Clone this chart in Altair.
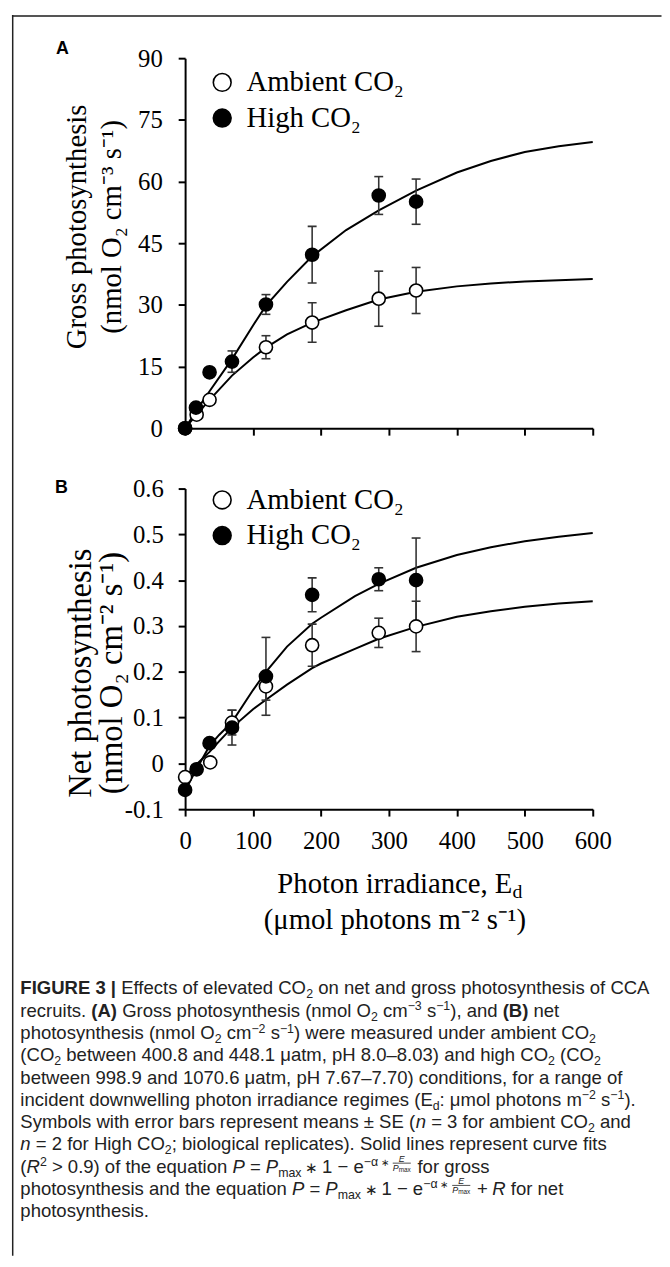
import re
import altair as alt
import pandas as pd

# ---------------- data ----------------
SERIES = ["Ambient CO₂", "High CO₂"]

X_TICKS = [0, 100, 200, 300, 400, 500, 600]
A_Y_TICKS = [0, 15, 30, 45, 60, 75, 90]
B_Y_TICKS = [-0.1, 0, 0.1, 0.2, 0.3, 0.4, 0.5, 0.6]

# Panel A - gross photosynthesis
A_AMB_X = [0, 17, 36, 119, 187, 285, 340]
A_AMB_Y = [0.0, 3.3, 6.9, 19.7, 25.7, 31.5, 33.5]
A_AMB_SE = [0.0, 0.0, 1.0, 2.8, 4.8, 6.7, 5.6]
A_HIGH_X = [0, 16, 36, 69, 119, 187, 285, 340]
A_HIGH_Y = [0.0, 5.0, 13.6, 16.2, 30.1, 42.2, 56.6, 55.1]
A_HIGH_SE = [0.0, 0.0, 1.1, 2.6, 2.4, 6.9, 4.6, 5.5]

A_FIT_X = [0, 17, 36, 69, 100, 119, 150, 187, 237, 285, 340, 400, 450, 500, 550, 600]
A_FIT_AMB = [0, 3.3, 6.9, 12.8, 17.2, 19.6, 22.8, 25.7, 28.7, 31.3, 33.2, 34.5, 35.2, 35.7, 36.0, 36.3]
A_FIT_HIGH = [0, 4.4, 9.0, 16.8, 25.0, 29.8, 35.6, 41.8, 48.2, 53.0, 57.8, 62.2, 65.0, 67.2, 68.6, 69.6]

# Panel B - net photosynthesis
B_AMB_X = [0, 37, 69, 119, 187, 285, 340]
B_AMB_Y = [-0.030, 0.002, 0.089, 0.168, 0.258, 0.285, 0.299]
B_AMB_SE = [0.0, 0.006, 0.027, 0.030, 0.046, 0.032, 0.055]
B_HIGH_X = [0, 17, 36, 69, 119, 187, 285, 340]
B_HIGH_Y = [-0.058, -0.013, 0.044, 0.078, 0.190, 0.368, 0.402, 0.400]
B_HIGH_SE = [0.0, 0.0, 0.0, 0.038, 0.085, 0.037, 0.025, 0.092]

B_FIT_X = [0, 17, 36, 50, 69, 100, 119, 150, 187, 200, 250, 285, 340, 400, 450, 500, 550, 600]
B_FIT_AMB = [-0.030, -0.002, 0.025, 0.048, 0.078, 0.118, 0.139, 0.172, 0.208, 0.218, 0.250,
             0.272, 0.298, 0.320, 0.332, 0.342, 0.349, 0.354]
B_FIT_HIGH = [-0.060, -0.012, 0.038, 0.062, 0.090, 0.160, 0.200, 0.255, 0.305, 0.318, 0.365,
              0.392, 0.427, 0.455, 0.472, 0.485, 0.495, 0.503]

A_YTITLE = ["Gross photosynthesis", "(nmol O₂ cm⁻³ s⁻¹)"]
B_YTITLE = ["Net photosynthesis", "(nmol O₂ cm⁻² s⁻¹)"]
X_TITLE = ["Photon irradiance, E", "(μmol photons m⁻² s⁻¹)"]
X_TITLE_SUB = "d"
PANEL_LABELS = ["A", "B"]

CAPTION = [
    "**FIGURE 3 |** Effects of elevated CO_{2} on net and gross photosynthesis of CCA",
    "recruits. **(A)** Gross photosynthesis (nmol O_{2} cm^{−3} s^{−1}), and **(B)** net",
    "photosynthesis (nmol O_{2} cm^{−2} s^{−1}) were measured under ambient CO_{2}",
    "(CO_{2} between 400.8 and 448.1 μatm, pH 8.0–8.03) and high CO_{2} (CO_{2}",
    "between 998.9 and 1070.6 μatm, pH 7.67–7.70) conditions, for a range of",
    "incident downwelling photon irradiance regimes (E_{d}: μmol photons m^{−2} s^{−1}).",
    "Symbols with error bars represent means ± SE (*n* = 3 for ambient CO_{2} and",
    "*n* = 2 for High CO_{2}; biological replicates). Solid lines represent curve fits",
    "(*R*^{2} > 0.9) of the equation *P* = *P*_{max} ∗ 1 − e^{−α ∗ }@FRAC@ for gross",
    "photosynthesis and the equation *P* = *P*_{max} ∗ 1 − e^{−α ∗ }@FRAC@ + *R* for net",
    "photosynthesis.",
]

# ---------------- tables ----------------
def pts_table(ax, ay, ase, hx, hy, hse):
    rows = []
    for x, y, s in zip(ax, ay, ase):
        rows.append(dict(x=x, y=y, lo=y - s, hi=y + s, se=s, series=SERIES[0], ord=0))
    for x, y, s in zip(hx, hy, hse):
        rows.append(dict(x=x, y=y, lo=y - s, hi=y + s, se=s, series=SERIES[1], ord=1))
    return pd.DataFrame(rows)


def fit_table(fx, famb, fhigh):
    rows = [dict(x=x, y=y, series=SERIES[0]) for x, y in zip(fx, famb)]
    rows += [dict(x=x, y=y, series=SERIES[1]) for x, y in zip(fx, fhigh)]
    return pd.DataFrame(rows)


A_PTS = pts_table(A_AMB_X, A_AMB_Y, A_AMB_SE, A_HIGH_X, A_HIGH_Y, A_HIGH_SE)
B_PTS = pts_table(B_AMB_X, B_AMB_Y, B_AMB_SE, B_HIGH_X, B_HIGH_Y, B_HIGH_SE)
A_FIT = fit_table(A_FIT_X, A_FIT_AMB, A_FIT_HIGH)
B_FIT = fit_table(B_FIT_X, B_FIT_AMB, B_FIT_HIGH)

# ---------------- layout constants ----------------
W = 412
HA = 374
HB = 324
GAP = 61
SERIF = "Liberation Serif"
SANS = "Liberation Sans"

XS = alt.Scale(domain=[0, 600], nice=False, zero=False)


def panel(pts, fit, ydom, height, xaxis, yaxis, legend):
    ys = alt.Scale(domain=ydom, nice=False, zero=False)
    X = lambda f: alt.X(f, type="quantitative", scale=XS, axis=xaxis)
    Y = lambda f: alt.Y(f, type="quantitative", scale=ys, axis=yaxis)
    lines = alt.Chart(fit).mark_line(color="black", strokeWidth=2).encode(
        x=X("x"), y=Y("y"), detail="series:N")
    err = pts[pts["se"] > 0]
    bars = alt.Chart(err).mark_rule(color="#333333", strokeWidth=1.6).encode(
        x=X("x"), y=Y("lo"), y2="hi:Q")
    cap_lo = alt.Chart(err).mark_tick(orient="horizontal", size=9, thickness=1.6,
                                      color="#333333", opacity=1).encode(x=X("x"), y=Y("lo"))
    cap_hi = alt.Chart(err).mark_tick(orient="horizontal", size=9, thickness=1.6,
                                      color="#333333", opacity=1).encode(x=X("x"), y=Y("hi"))
    points = alt.Chart(pts).mark_point(filled=True, size=175, stroke="black",
                                       strokeWidth=1.6, opacity=1).encode(
        x=X("x"), y=Y("y"),
        fill=alt.Fill("series:N", scale=alt.Scale(domain=SERIES, range=["white", "black"]),
                      legend=legend),
        order=alt.Order("ord:Q"))
    return alt.layer(lines, bars, cap_lo, cap_hi, points).properties(width=W, height=height)


def legend(ly):
    return alt.Legend(orient="none", legendX=23, legendY=ly, title=None, symbolType="circle",
                      symbolSize=324, symbolStrokeColor="black", symbolStrokeWidth=1.6,
                      labelFont=SERIF, labelFontSize=29, labelColor="black", labelOffset=10,
                      rowPadding=6, padding=0, symbolOpacity=1)


XT_Y = 84          # baseline of the first x-title line, below the axis line
XT_LH = 37

xaxis_A = alt.Axis(values=X_TICKS, labels=False, title=None, labelFlush=False)
yaxis_A = alt.Axis(values=A_Y_TICKS, title=A_YTITLE, titleX=-109.5, titleY=170,
                   titleAngle=270, titleAlign="center", titleBaseline="middle",
                   titleFontSize=29, titleLineHeight=35, labelPadding=16, labelFlush=False)
xaxis_B = alt.Axis(values=X_TICKS, title=X_TITLE, labelPadding=13, labelFlush=False,
                   titleX=211.5, titleY=XT_Y, titleAlign="center", titleBaseline="alphabetic",
                   titleFontSize=29, titleLineHeight=XT_LH)
yaxis_B = alt.Axis(values=B_Y_TICKS, title=B_YTITLE, titleX=-106, titleY=186,
                   titleAngle=270, titleAlign="center", titleBaseline="middle",
                   titleFontSize=33, titleLineHeight=32, labelPadding=15, labelFlush=False,
                   labelExpr="abs(datum.value) < 1e-9 ? '0' : (datum.value < 0 ? '-' : '') + format(abs(datum.value), '.1f')")

chartA = panel(A_PTS, A_FIT, [0, 90], HA, xaxis_A, yaxis_A, legend(10))
chartB = panel(B_PTS, B_FIT, [-0.1, 0.6], HB, xaxis_B, yaxis_B, legend(-3))

# ---------------- annotation panel (frame, panel letters, caption) ----------------
OX, OY = 187.5, 51.7 + HA + GAP + HB + GAP   # page position of this panel's origin


def rel(px, py):
    return px - OX, py - OY


# Arial / Liberation Sans advance widths (1/1000 em)
WR = {' ': 278, '(': 333, ')': 333, ',': 278, '-': 333, '.': 278, ':': 278, ';': 278,
      '=': 584, '>': 584, '|': 260, '±': 584, '–': 556, '−': 584, 'μ': 576, 'α': 578, '∗': 550}
for ch in "0123456789":
    WR[ch] = 556
WR.update(dict(zip("ABCDEFGHIJKLMNOPQRSTUVWXYZ",
                   [667, 667, 722, 722, 667, 611, 778, 722, 278, 500, 667, 556, 833, 722, 778,
                    667, 778, 722, 667, 611, 722, 667, 944, 667, 667, 611])))
WR.update(dict(zip("abcdefghijklmnopqrstuvwxyz",
                   [556, 556, 500, 556, 556, 278, 556, 556, 222, 222, 500, 222, 833, 556, 556,
                    556, 556, 333, 500, 278, 556, 500, 722, 500, 500, 500])))
WB = dict(WR)
WB.update({'A': 722, 'B': 722, 'G': 778, 'U': 722, 'R': 722, '|': 280})


def tw(text, bold, size):
    tbl = WB if bold else WR
    return sum(tbl.get(c, 556) for c in text) * size / 1000.0


TOK = re.compile(r"\*\*(.+?)\*\*|\*(.+?)\*|_\{(.+?)\}|\^\{(.+?)\}|(@FRAC@)|([^*_^@]+)")
FS, FSS = 18.7, 12.5
CAP_X, CAP_Y0, CAP_DY = 21.0, 998.0, 22.5

cap_rows, frac_bars = [], []
for li, line in enumerate(CAPTION):
    x = CAP_X
    base = CAP_Y0 + li * CAP_DY
    for m in TOK.finditer(line):
        b, it, sub, sup, fr, n = m.groups()
        if fr:
            fx = x + 1
            den_w = tw("P", False, 9) + tw("max", False, 6.5)
            cap_rows.append(dict(px=fx + den_w / 2, py=base - 10.5, text="E", w="normal",
                                 s="italic", size=9, a="center"))
            cap_rows.append(dict(px=fx, py=base - 1.5, text="P", w="normal", s="italic",
                                 size=9, a="left"))
            cap_rows.append(dict(px=fx + tw("P", False, 9), py=base - 0.5, text="max",
                                 w="normal", s="normal", size=6.5, a="left"))
            frac_bars.append(dict(px=fx, px2=fx + den_w, py=base - 9.5))
            x = fx + den_w + 1.5
            continue
        text = b or it or sub or sup or n
        bold = b is not None
        weight = "bold" if bold else "normal"
        style = "italic" if it is not None else "normal"
        size = FSS if (sub or sup) else FS
        dy = 4.0 if sub else (-6.5 if sup else 0.0)
        for part in re.split("(∗)", text):
            if not part:
                continue
            core = part.strip(" ")
            lead = len(part) - len(part.lstrip(" "))
            trail = len(part) - len(part.rstrip(" ")) if core else 0
            x += tw(" " * lead, bold, size)
            if core:
                wcore = tw(core, bold, size)
                if core == "∗":
                    cap_rows.append(dict(px=x + wcore / 2, py=base + dy, text=core, w=weight,
                                         s=style, size=size * 0.8, a="center"))
                else:
                    cap_rows.append(dict(px=x, py=base + dy, text=core, w=weight, s=style,
                                         size=size, a="left"))
                x += wcore
                x += tw(" " * trail, bold, size)

CAP = pd.DataFrame(cap_rows)
CAP["x"], CAP["y"] = CAP["px"] - OX, CAP["py"] - OY
BARS = pd.DataFrame(frac_bars)
BARS["x"], BARS["x2"], BARS["y"] = BARS["px"] - OX, BARS["px2"] - OX, BARS["py"] - OY

NX = lambda f: alt.X(f, type="quantitative", scale=None, axis=None)
NY = lambda f: alt.Y(f, type="quantitative", scale=None, axis=None)

cap_layers = []
for (w_, s_, a_), g in CAP.groupby(["w", "s", "a"]):
    cap_layers.append(
        alt.Chart(g.reset_index(drop=True)).mark_text(
            font=SANS, color="#222222", baseline="alphabetic", align=a_, fontWeight=w_,
            fontStyle=s_).encode(x=NX("x"), y=NY("y"), text="text:N",
                                  size=alt.Size("size:Q", scale=None, legend=None)))

bar_layer = alt.Chart(BARS).mark_rule(color="#222222", strokeWidth=0.8).encode(
    x=NX("x"), x2="x2:Q", y=NY("y"))

# figure frame (top and left border) as thin rectangles
t_x1, t_y1 = rel(12.5, 8.0)
t_x2, t_y2 = rel(669.0, 10.0)
l_x1, l_y1 = rel(12.5, 8.0)
l_x2, l_y2 = rel(14.0, 1262.0)
FRAME = pd.DataFrame([dict(x=t_x1, x2=t_x2, y=t_y1, y2=t_y2, c="#555555"),
                      dict(x=l_x1, x2=l_x2, y=l_y1, y2=l_y2, c="#222222")])
frame_layer = alt.Chart(FRAME).mark_rect(strokeWidth=0).encode(
    x=NX("x"), x2="x2:Q", y=NY("y"), y2="y2:Q",
    color=alt.Color("c:N", scale=None, legend=None))

la = rel(57.0, 42.0)
lb = rel(56.0, 486.0)
LABELS = pd.DataFrame([dict(x=la[0], y=la[1], text=PANEL_LABELS[0]),
                       dict(x=lb[0], y=lb[1], text=PANEL_LABELS[1])])
labels_layer = alt.Chart(LABELS).mark_text(font=SANS, fontSize=18, fontWeight="bold",
                                           color="black", align="left", baseline="middle").encode(
    x=NX("x"), y=NY("y"), text="text:N")

# subscript "d" of the x-axis title
TITLE_CX = OX + 211.5
title_w = sum({'P': 556, 'h': 500, 'o': 500, 't': 278, 'n': 500, ' ': 250, 'i': 278, 'r': 333,
               'a': 444, 'd': 500, 'c': 444, 'e': 444, ',': 250, 'E': 611}.get(c, 500)
              for c in X_TITLE[0]) * 29 / 1000.0
sx, sy = rel(TITLE_CX + title_w / 2 + 0.5, 51.7 + HA + GAP + HB + XT_Y + 5.5)
SUB = pd.DataFrame([dict(x=sx, y=sy, text=X_TITLE_SUB)])
sub_layer = alt.Chart(SUB).mark_text(font=SERIF, fontSize=20, color="black", align="left",
                                     baseline="alphabetic").encode(x=NX("x"), y=NY("y"),
                                                                   text="text:N")

chartC = alt.layer(frame_layer, labels_layer, sub_layer, bar_layer,
                   *cap_layers).properties(width=W, height=1)

chart = alt.vconcat(chartA, chartB, chartC, spacing=GAP, bounds="flush").resolve_scale(
    fill="independent", x="independent", y="independent").resolve_legend(
    fill="independent").properties(
    padding={"left": 4, "top": 0, "right": 0, "bottom": 0}, background="white").configure_view(
    stroke=None).configure_axis(
    domainColor="black", domainWidth=2, tickColor="black", tickWidth=2, tickSize=7,
    labelFont=SERIF, labelFontSize=25, labelColor="black", titleFont=SERIF,
    titleColor="black", titleFontWeight="normal", grid=False)

chart.save("out.html", embed_options={"renderer": "svg", "actions": False})
